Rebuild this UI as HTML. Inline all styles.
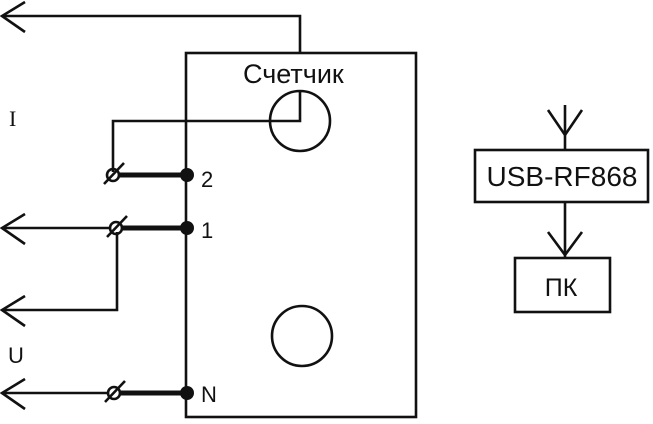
<!DOCTYPE html>
<html><head><style>body{margin:0;background:#fff}</style></head><body>
<svg width="653" height="424" viewBox="0 0 653 424" xmlns="http://www.w3.org/2000/svg" style="display:block">
<g fill="none" stroke="#111" stroke-width="2.6">
<rect x="186" y="53" width="230" height="364"/>
<polyline points="2,16 300,16 300,53"/>
<polyline points="25,2 2,16 25,32"/>
<circle cx="300" cy="121" r="30"/>
<polyline points="300,92 300,121 113,121 113,172"/>
<circle cx="302" cy="336" r="30"/>
<line x1="2" y1="228" x2="110" y2="228"/>
<polyline points="25,214 2,228 25,244"/>
<polyline points="117,232 117,310 2,310"/>
<polyline points="25,296 2,310 25,326"/>
<line x1="2" y1="393" x2="108" y2="393"/>
<polyline points="25,379 2,393 25,409"/>
<circle cx="113" cy="175" r="6"/><line x1="104" y1="184" x2="124" y2="163"/>
<circle cx="116" cy="228" r="6"/><line x1="107" y1="237" x2="127" y2="216"/>
<circle cx="114" cy="393" r="6"/><line x1="105" y1="402" x2="125" y2="381"/>
<rect x="475" y="150" width="173" height="52"/>
<line x1="565" y1="105" x2="565" y2="150"/>
<polyline points="548,110 565,135 582,110"/>
<line x1="565" y1="202" x2="565" y2="257"/>
<polyline points="548,232 565,255 582,232"/>
<rect x="515" y="258" width="95" height="54"/>
</g>
<g stroke="#111" stroke-width="5">
<line x1="119" y1="175" x2="187" y2="175"/>
<line x1="122" y1="228" x2="187" y2="228"/>
<line x1="120" y1="393" x2="187" y2="393"/>
</g>
<g fill="#111">
<circle cx="187" cy="175" r="7"/><circle cx="187" cy="228" r="7"/><circle cx="187" cy="393" r="7"/>
</g>
<g font-family="Liberation Sans, sans-serif" fill="#111">
<text x="243" y="83" font-size="27">Счетчик</text>
<text x="201" y="187" font-size="22">2</text>
<text x="201" y="238" font-size="22">1</text>
<text x="201" y="402" font-size="22">N</text>
<text x="8" y="363" font-size="22">U</text>
<text x="9" y="126" font-size="22" font-family="Liberation Serif, serif">I</text>
<text x="562" y="186" font-size="28" text-anchor="middle">USB-RF868</text>
<text x="561" y="296" font-size="25" text-anchor="middle">ПК</text>
</g>
</svg>
</body></html>
